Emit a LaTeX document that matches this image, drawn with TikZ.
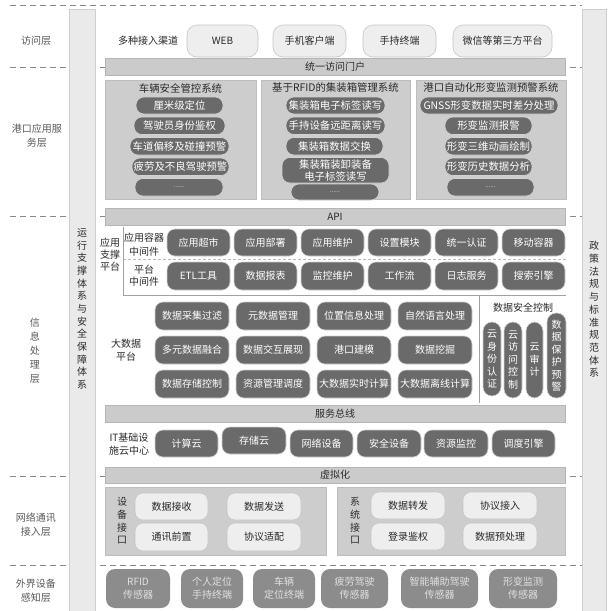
\documentclass[tikz,border=0pt]{standalone}
\usepackage{fontspec}
\setmainfont{Noto Sans CJK SC}
\definecolor{stripc}{HTML}{EAEAEA}
\definecolor{stripl}{HTML}{CFCFCF}
\definecolor{barc}{HTML}{CBCBCB}
\definecolor{barl}{HTML}{B5B5B5}
\definecolor{panelc}{HTML}{CDCDCD}
\definecolor{panell}{HTML}{BDBDBD}
\definecolor{darkc}{HTML}{6A6A6A}
\definecolor{lightc}{HTML}{EEEEEE}
\definecolor{lightl}{HTML}{C6C6C6}
\definecolor{midc}{HTML}{8C8C8C}
\definecolor{lblc}{HTML}{5A5A5A}
\definecolor{txtc}{HTML}{2A2A2A}
\definecolor{sepc}{HTML}{8A8A8A}
\newcommand{\fs}{\fontsize{10}{12}\selectfont}
\newcommand{\bx}[7][]{\node[#1, minimum width={#5-#3}, minimum height={#6-#4}] (#2) at ({(#3+#5)/2},{(#4+#6)/2}) {#7};}
\tikzset{
  base/.style={inner sep=0pt, outer sep=0pt, align=center, font=\fs},
  acc/.style={base, rounded corners=10pt, fill=lightc, draw=lightl, line width=0.6pt, text=txtc},
  barst/.style={base, fill=barc, draw=barl, line width=0.5pt, text=txtc},
  panelst/.style={base, fill=panelc, draw=panell, line width=0.5pt},
  dpill/.style={base, rounded corners=8pt, fill=darkc, draw=white!70!darkc, line width=0.6pt, text=white},
  apill/.style={dpill, font=\fontsize{10.4}{12}\selectfont},
  dpillv/.style={base, rounded corners=9pt, fill=darkc, draw=white!70!darkc, line width=0.6pt, text=white, font=\fontsize{10}{12.5}\selectfont},
  lpill/.style={base, rounded corners=8pt, fill=lightc, draw=lightl, line width=0.6pt, text=txtc},
  mpill/.style={base, rounded corners=9pt, fill=midc, text=white!88!black, font=\fontsize{10}{13}\selectfont},
  layer/.style={base, text=lblc, font=\fontsize{10}{14}\selectfont},
  plain/.style={base, text=txtc},
  stripst/.style={fill=stripc, draw=stripl, line width=0.6pt},
  layersep/.style={draw=sepc, line width=0.8pt, dash pattern=on 6pt off 4pt},
  inner/.style={draw=sepc!80, line width=0.6pt},
  innerd/.style={draw=sepc!60, line width=0.6pt, dash pattern=on 3pt off 2pt},
}
\begin{document}
\begin{tikzpicture}[x=1pt,y=-1pt]
\useasboundingbox (0,0) rectangle (609,611);
\fill[white] (0,0) rectangle (609,611);
% layer separators
\coordinate (s0a) at (10,5);   \coordinate (s0b) at (582,5);
\coordinate (s1a) at (10,67);  \coordinate (s1b) at (582,67);
\coordinate (s2a) at (10,216); \coordinate (s2b) at (582,216);
\coordinate (s3a) at (10,476); \coordinate (s3b) at (582,476);
\coordinate (s4a) at (10,565); \coordinate (s4b) at (582,565);
\draw[layersep] (s1a) -- (s1b);
\draw[layersep] (s2a) -- (s2b);
\draw[layersep] (s3a) -- (s3b);
\draw[layersep] (s4a) -- (s4b);
% side strips
\bx[stripst]{lstrip}{69}{9}{95}{611}{}
\bx[stripst]{rstrip}{582}{9}{606}{611}{}
\draw[layersep] (s0a) -- (s0b);
\node[base, text=txtc, font=\fontsize{10}{12.67}\selectfont] (ltext) at (82,309) {运\\行\\支\\撑\\体\\系\\与\\安\\全\\保\\障\\体\\系};
\node[base, text=txtc, font=\fontsize{10}{12.7}\selectfont] (rtext) at (594,309.5) {政\\策\\法\\规\\与\\标\\准\\规\\范\\体\\系};
% layer labels
\node[layer] (L1) at (36,41) {访问层};
\node[layer] (L2) at (37,136) {港口应用服\\务层};
\node[layer] (L3) at (35,351) {信\\息\\处\\理\\层};
\node[layer] (L4) at (36,525) {网络通讯\\接入层};
\node[layer] (L5) at (36,591) {外界设备\\感知层};
% access layer
\node[plain] (chan) at (148,41) {多种接入渠道};
\bx[acc]{web}{187}{25}{258}{57}{WEB}
\bx[acc]{mob}{273}{25}{346}{57}{手机客户端}
\bx[acc]{hand}{363}{25}{436}{57}{手持终端}
\bx[acc]{wx}{453}{25}{552}{57}{微信等第三方平台}
\bx[barst]{portal}{105}{58}{565}{75}{统一访问门户}
% application layer
\bx[panelst]{p1}{105}{80}{256}{199}{}
\bx[panelst]{p2}{261}{80}{410}{199}{}
\bx[panelst]{p3}{416}{80}{566}{199}{}
\node[plain, font=\fontsize{10.4}{12}\selectfont] (t1) at (180.5,88) {车辆安全管控系统};
\node[plain, font=\fontsize{10.4}{12}\selectfont] (t2) at (335.5,88) {基于RFID的集装箱管理系统};
\node[plain, font=\fontsize{10.4}{12}\selectfont] (t3) at (491,88) {港口自动化形变监测预警系统};
\bx[apill]{a1}{136}{97}{223}{114}{厘米级定位}
\bx[apill]{a2}{134}{117}{225}{134.5}{驾驶员身份鉴权}
\bx[apill]{a3}{130}{137.5}{229}{155}{车道偏移及碰撞预警}
\bx[apill]{a4}{132}{158}{229}{175.5}{疲劳及不良驾驶预警}
\bx[apill]{a5}{135}{178.5}{223}{196}{\fontsize{6}{7}\selectfont ......}
\bx[apill]{b1}{286}{97}{385}{114}{集装箱电子标签读写}
\bx[apill]{b2}{286}{117}{385}{134.5}{手持设备远距离读写}
\bx[apill]{b3}{286}{137.5}{383}{155}{集装箱数据交换}
\bx[apill]{b4}{282}{157.5}{389}{183}{集装箱装卸装备\\电子标签读写}
\bx[apill]{b5}{291}{184}{379}{200}{\fontsize{6}{7}\selectfont ......}
\bx[apill]{c1}{420}{97}{558}{114}{GNSS形变数据实时差分处理}
\bx[apill]{c2}{445}{117}{532}{134.5}{形变监测报警}
\bx[apill]{c3}{445}{137.5}{532}{155}{形变三维动画绘制}
\bx[apill]{c4}{445}{158}{532}{175.5}{形变历史数据分析}
\bx[apill]{c5}{447}{178.5}{534}{196}{\fontsize{6}{7}\selectfont ......}
% information processing layer
\bx[barst]{api}{105}{208}{565}{225}{API}
\coordinate (v1t) at (123,227); \coordinate (v1b) at (123,295); \coordinate (h1r) at (566,295);
\coordinate (hda) at (123,259); \coordinate (hdb) at (566,259);
\coordinate (v2t) at (479,295); \coordinate (v2b) at (479,403);
\draw[inner] (v1t) -- (v1b) -- (h1r);
\draw[innerd] (hda) -- (hdb);
\draw[inner] (v2t) -- (v2b);
\node[plain, font=\fontsize{10}{12}\selectfont] (asp) at (110,255) {应用\\支撑\\平台};
\node[plain, font=\fontsize{10}{14}\selectfont] (acm) at (144,245) {应用容器\\中间件};
\node[plain, font=\fontsize{10}{12}\selectfont] (pmw) at (144,276) {平台\\中间件};
\bx[dpill]{m1}{167}{229}{230}{256}{应用超市}
\bx[dpill]{m2}{234}{229}{297}{256}{应用部署}
\bx[dpill]{m3}{301}{229}{364}{256}{应用维护}
\bx[dpill]{m4}{368}{229}{431}{256}{设置模块}
\bx[dpill]{m5}{435}{229}{498}{256}{统一认证}
\bx[dpill]{m6}{502}{229}{565}{256}{移动容器}
\bx[dpill]{n1}{167}{262}{230}{290}{ETL工具}
\bx[dpill]{n2}{234}{262}{297}{290}{数据报表}
\bx[dpill]{n3}{301}{262}{364}{290}{监控维护}
\bx[dpill]{n4}{368}{262}{431}{290}{工作流}
\bx[dpill]{n5}{435}{262}{498}{290}{日志服务}
\bx[dpill]{n6}{502}{262}{565}{290}{搜索引擎}
\node[plain, font=\fontsize{10}{13}\selectfont] (bdp) at (126,350) {大数据\\平台};
\bx[dpill]{d1}{155}{302}{229}{330}{数据采集过滤}
\bx[dpill]{d2}{236}{302}{310}{330}{元数据管理}
\bx[dpill]{d3}{317}{302}{391}{330}{位置信息处理}
\bx[dpill]{d4}{398}{302}{472}{330}{自然语言处理}
\bx[dpill]{d5}{155}{336}{229}{364}{多元数据融合}
\bx[dpill]{d6}{236}{336}{310}{364}{数据交互展现}
\bx[dpill]{d7}{317}{336}{391}{364}{港口建模}
\bx[dpill]{d8}{398}{336}{472}{364}{数据挖掘}
\bx[dpill]{d9}{155}{370}{229}{398}{数据存储控制}
\bx[dpill]{d10}{236}{370}{310}{398}{资源管理调度}
\bx[dpill]{d11}{317}{370}{391}{398}{大数据实时计算}
\bx[dpill]{d12}{398}{370}{472}{398}{大数据离线计算}
\node[plain] (dsc) at (523,308) {数据安全控制};
\bx[dpillv]{s1}{483}{322}{501}{396}{云\\身\\份\\认\\证}
\bx[dpillv]{s2}{504}{322}{522}{398}{云\\访\\问\\控\\制}
\bx[dpillv]{s3}{526}{322}{543}{398}{云\\审\\计}
\bx[dpillv]{s4}{547}{313}{566}{398}{数\\据\\保\\护\\预\\警}
\bx[barst]{bus}{105}{405}{565}{422}{服务总线}
\node[plain, font=\fontsize{10}{13}\selectfont] (itc) at (129,444.5) {IT基础设\\施云中心};
\bx[dpill]{i1}{155}{430}{218}{457}{计算云}
\bx[dpill]{i2}{222}{427}{286}{454}{存储云}
\bx[dpill]{i3}{290}{430}{353}{457}{网络设备}
\bx[dpill]{i4}{357}{430}{421}{457}{安全设备}
\bx[dpill]{i5}{424}{430}{488}{457}{资源监控}
\bx[dpill]{i6}{492}{430}{555}{457}{调度引擎}
% network access layer
\bx[barst]{virt}{105}{467}{565}{483}{虚拟化}
\bx[panelst]{np1}{105}{487}{326}{555}{}
\bx[panelst]{np2}{337}{487}{565}{555}{}
\node[plain, font=\fontsize{10}{12.7}\selectfont] (dif) at (122,521) {设\\备\\接\\口};
\node[plain, font=\fontsize{10}{12.7}\selectfont] (sif) at (355,521) {系\\统\\接\\口};
\bx[lpill]{e1}{135}{493}{208}{520}{数据接收}
\bx[lpill]{e2}{135}{523}{208}{551}{通讯前置}
\bx[lpill]{e3}{227}{493}{301}{520}{数据发送}
\bx[lpill]{e4}{227}{523}{301}{551}{协议适配}
\bx[lpill]{f1}{371}{492}{445}{519}{数据转发}
\bx[lpill]{f2}{371}{523}{445}{550}{登录鉴权}
\bx[lpill]{f3}{463}{492}{537}{519}{协议接入}
\bx[lpill]{f4}{463}{523}{537}{550}{数据预处理}
% perception layer
\bx[mpill]{g1}{106}{569}{170}{608}{RFID\\传感器}
\bx[mpill]{g2}{181}{569}{243}{608}{个人定位\\手持终端}
\bx[mpill]{g3}{253}{569}{315}{608}{车辆\\定位终端}
\bx[mpill]{g4}{321}{569}{388}{608}{疲劳驾驶\\传感器}
\bx[mpill]{g5}{401}{569}{478}{608}{智能辅助驾驶\\传感器}
\bx[mpill]{g6}{489}{569}{557}{608}{形变监测\\传感器}
\end{tikzpicture}
\end{document}
